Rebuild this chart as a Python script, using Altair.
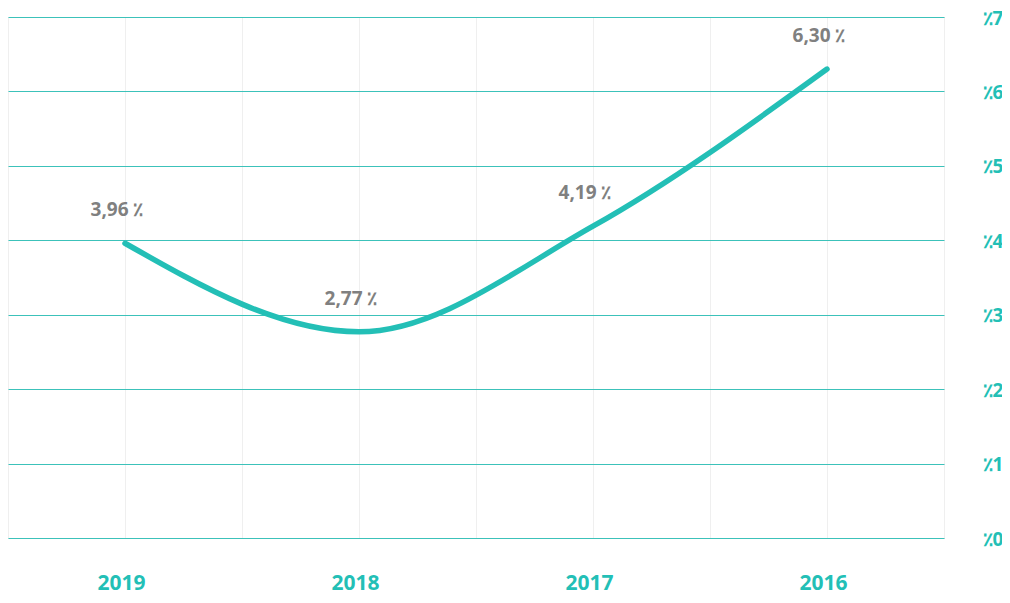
import altair as alt
import pandas as pd

years = ["2019", "2018", "2017", "2016"]
values = [3.96, 2.77, 4.19, 6.30]
value_labels = ["3,96 ٪", "2,77 ٪", "4,19  ٪", "6,30 ٪"]
y_ticks = [0, 1, 2, 3, 4, 5, 6, 7]

TEAL = "#23bfb6"
FONT = "Open Sans"

df = pd.DataFrame({
    "year": years,
    "pos": [2 * i + 1 for i in range(len(years))],
    "value": values,
    "label": value_labels,
})

label_map = "{" + ",".join(f"'{2*i+1}':'{y}'" for i, y in enumerate(years)) + "}"

x = alt.X(
    "pos:Q",
    scale=alt.Scale(domain=[0, 2 * len(years)], nice=False, zero=False),
    axis=alt.Axis(
        title=None,
        values=list(range(0, 2 * len(years) + 1)),
        labelExpr=f"({label_map})[''+datum.value] || ''",
        grid=True, gridColor="#efefef", gridWidth=1,
        domain=False, ticks=False,
        labelFont=FONT, labelFontSize=21, labelFontWeight="bold",
        labelColor=TEAL, labelPadding=51, labelBaseline="alphabetic",
        labelOffset=-4,
    ),
)
y = alt.Y(
    "value:Q",
    scale=alt.Scale(domain=[0, 7], nice=False),
    axis=alt.Axis(
        title=None, orient="right", values=y_ticks,
        labelExpr="'٪' + datum.value",
        grid=True, gridColor="#3cc2ba", gridWidth=1,
        domain=False, ticks=False,
        labelFont=FONT, labelFontSize=19, labelFontWeight="bold",
        labelColor=TEAL, labelPadding=38, labelAlign="left", labelOffset=1,
    ),
)

line = alt.Chart(df).mark_line(
    interpolate="monotone", color=TEAL, strokeWidth=5.5, strokeCap="round"
).encode(x=x, y=y)

text = alt.Chart(df).mark_text(
    font=FONT, fontSize=19, fontWeight="bold", color="#808080",
    dy=-33, dx=-8, baseline="middle",
).encode(x="pos:Q", y="value:Q", text="label:N")

chart = (line + text).properties(
    width=936, height=521,
    autosize=alt.AutoSizeParams(type="none"),
    padding={"left": 0, "top": 9, "right": 58, "bottom": 57},
).configure_view(stroke=None).configure(background="white")

chart.save("out.html", embed_options={"renderer": "svg", "actions": False})
